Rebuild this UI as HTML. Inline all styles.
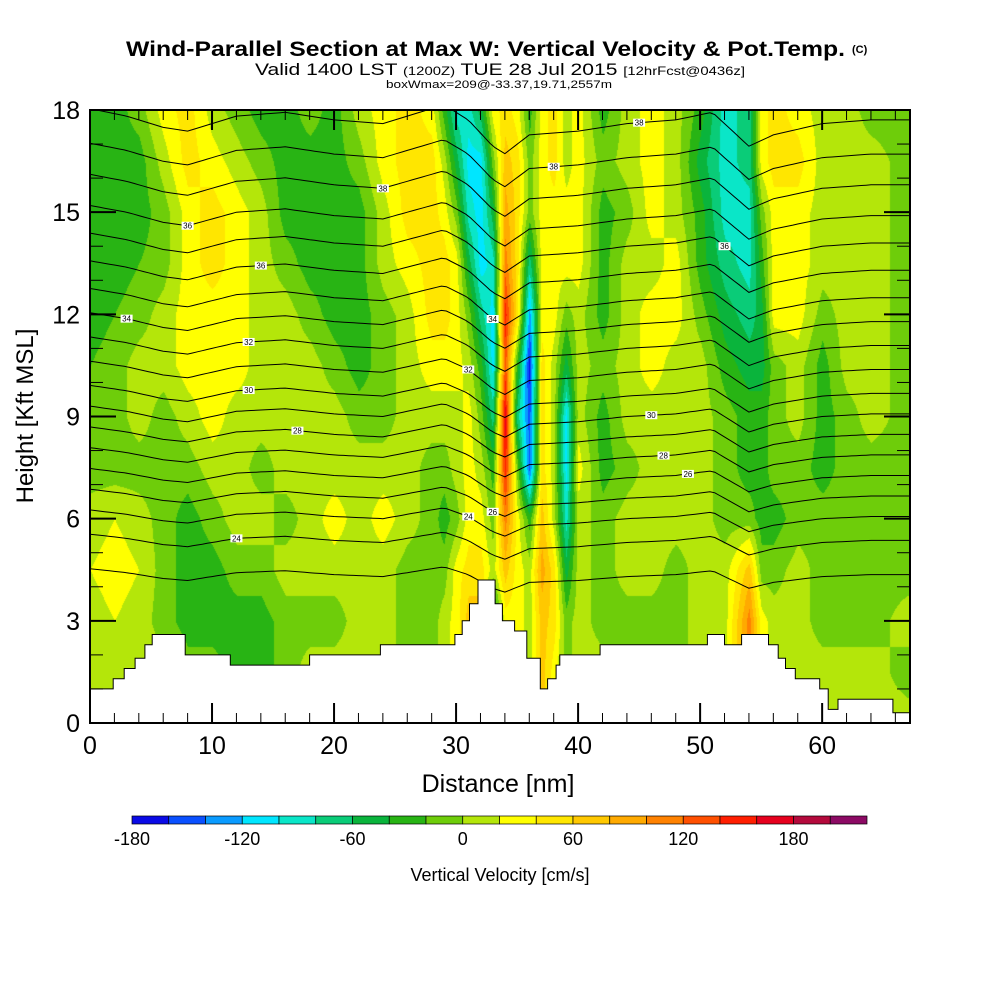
<!DOCTYPE html>
<html><head><meta charset="utf-8"><style>
body{margin:0;background:#fff;width:1000px;height:1000px;overflow:hidden;position:relative;font-family:"Liberation Sans",sans-serif}
#heat{position:absolute;left:90px;top:110px}
#ov{position:absolute;left:0;top:0}
</style></head><body>
<canvas id="heat" width="820" height="613"></canvas>
<svg id="ov" width="1000" height="1000">
<text x="126" y="56" font-size="21" font-weight="bold" textLength="719" lengthAdjust="spacingAndGlyphs">Wind-Parallel Section at Max W: Vertical Velocity &amp; Pot.Temp.</text>
<text x="852" y="53" font-size="11" font-weight="bold">(C)</text>
<text x="255" y="75" font-size="17" textLength="490" lengthAdjust="spacingAndGlyphs">Valid 1400 LST <tspan font-size="12">(1200Z)</tspan> TUE 28 Jul 2015 <tspan font-size="12">[12hrFcst@0436z]</tspan></text>
<text x="386" y="88" font-size="11" textLength="226" lengthAdjust="spacingAndGlyphs">boxWmax=209@-33.37,19.71,2557m</text>
<defs><clipPath id="pc"><rect x="90" y="110" width="820" height="613"/></clipPath></defs>
<g id="contours" clip-path="url(#pc)"></g>
<path id="terrain" fill="#fff" stroke="#000" stroke-width="1"/>
<g id="axes"></g>
<rect x="90" y="110" width="820" height="613" fill="none" stroke="#000" stroke-width="2"/>
<text x="0" y="0" font-size="24" text-anchor="middle" transform="translate(33,416) rotate(-90)">Height [Kft MSL]</text>
<text x="498" y="792" font-size="25" text-anchor="middle">Distance [nm]</text>
<g id="cbar"></g>
<text x="500" y="881" font-size="18" text-anchor="middle">Vertical Velocity [cm/s]</text>
</svg>
<script>
// ---- data ----
const colors=["#0a0ae6","#0a50ff","#0a9bff","#00e6ff","#0ae6c8","#0acc78","#0ab43c","#28b414","#6ecd0a","#b4e60a","#ffff00","#ffe600","#ffc800","#ffaa00","#ff8200","#ff5000","#ff1e00","#e6001e","#b40a3c","#8c0a64"];
const cbarLabels=[-180,-120,-60,0,60,120,180];
const heights=[18,16.5,15,13.5,12,10.5,9,7.5,6,4.5,3,1.5,0];
const xs=[0,2,4,6,8,10,12,14,16,18,20,22,24,26,28,29,30,31,32,33,34,35,36,37,38,39,40,42,44,46,48,50,52,54,55,56,58,60,62,64,67];
const wCols=[
[-30,-30,-30,-30,-30,-20,-10,-10,10,20,10,10,10],
[-30,-30,-30,-30,-20,-10,-10,-10,20,30,20,10,10],
[-10,-30,-30,-20,-10,10,10,-10,10,20,10,10,10],
[30,10,-10,-10,10,10,-10,-10,-10,-10,-10,10,10],
[50,50,30,30,30,30,10,-10,-30,-30,-30,-10,-10],
[10,30,50,50,30,30,30,10,-10,-30,-30,-10,-10],
[-10,10,30,30,30,30,10,10,10,-10,-30,-30,-30],
[-30,-10,10,10,10,10,10,-10,10,-10,-30,-30,-30],
[-30,-30,-30,-10,10,10,10,10,-10,10,-10,-10,-10],
[-10,-30,-30,-30,-10,10,10,10,10,10,-10,10,10],
[-30,-30,-30,-30,-30,-10,10,10,30,10,-10,10,10],
[10,-10,-30,-30,-30,-30,-10,10,10,10,10,10,10],
[30,30,10,10,-10,-10,-10,10,30,10,10,10,10],
[50,50,50,30,10,10,10,10,10,-10,-10,-10,-10],
[30,50,50,50,50,30,10,-10,-10,-10,-10,-10,-10],
[-30,10,30,50,50,30,10,-10,-30,-10,10,10,10],
[-90,-50,-10,30,30,30,10,10,-10,30,30,30,30],
[-90,-110,-90,-50,-10,10,30,30,30,50,70,70,70],
[-50,-110,-110,-110,-70,-30,-10,10,30,50,70,70,70],
[30,-10,-50,-90,-110,-110,-70,-30,-10,10,-70,-70,-70],
[50,70,90,110,150,130,170,150,110,70,30,30,30],
[30,50,50,50,50,-30,-70,-10,30,30,30,30,30],
[-30,-10,-10,-70,-130,-170,-150,-150,-30,10,10,10,10],
[30,30,30,30,30,50,50,50,70,90,70,70,70],
[50,50,30,30,30,10,10,10,10,50,50,30,30],
[10,10,30,30,-10,-50,-110,-110,-90,-50,-10,-10,-10],
[30,30,30,30,10,10,10,30,10,10,10,10,10],
[-30,-10,-30,-30,-30,-10,-30,-30,-10,-10,-10,10,10],
[10,10,-10,10,10,10,10,-10,10,10,-10,10,10],
[30,30,30,10,30,30,10,10,10,10,-10,-10,-10],
[10,10,10,30,30,10,10,10,10,-10,-10,-10,-10],
[-30,-50,-30,-30,-10,10,10,10,10,10,10,10,10],
[-90,-90,-90,-70,-50,-30,-10,-10,-10,10,10,10,10],
[-70,-70,-90,-90,-70,-50,-30,-30,-10,70,110,110,110],
[30,30,-10,-30,-50,-50,-30,-30,-30,-10,30,30,30],
[50,50,30,30,30,-10,-10,-10,-30,-10,10,10,10],
[30,50,30,30,30,10,10,-10,-10,10,10,10,10],
[10,10,10,10,-10,-30,-30,-30,-10,-10,-10,10,30],
[10,10,10,10,10,10,-10,-10,-10,-10,-10,10,10],
[-10,10,10,10,10,10,10,-10,-10,-10,-10,10,10],
[-10,-10,-10,-10,-10,-10,-10,-10,-10,-10,10,-10,10]];
const terrainX=[0,1.9,2.8,3.7,4.5,5.1,7.8,11.5,18.0,23.8,29.9,30.5,31.1,31.8,33.2,33.8,34.8,35.8,36.9,37.5,38.2,38.5,41.8,50.6,52.0,53.4,55.6,56.4,57.0,57.8,59.8,60.5,61.3,65.8];
const terrainH=[1.0,1.3,1.6,1.9,2.3,2.6,2.0,1.7,2.0,2.3,2.6,3.0,3.5,4.2,3.5,3.0,2.7,1.9,1.0,1.3,1.7,2.0,2.3,2.6,2.3,2.6,2.3,1.9,1.6,1.3,1.0,0.4,0.7,0.3];
const contourX=[0,3,6,8,12,16,20,24,27,29,31,33,34,36,40,44,48,51,54,56,60,64,67];
const contourDisp=[0.4,0.2,-0.1,-0.2,0.2,0.3,0.1,0,0.3,0.5,0.1,-0.6,-0.8,-0.3,-0.2,0,0.1,0.3,-0.6,-0.3,0,0.1,0.1];
const contourBase=[4.3,5.3,6.0,6.6,7.2,7.8,8.4,9.0,9.6,10.3,11.0,11.7,12.4,13.2,14.0,14.8,15.7,16.6,17.6];
const contourLabels=["","24","24","26","26","28","28","30","30","32","32","34","34","36","36","36","38","38","38"];
const contourLabelX=[0,12,31,33,49,47,17,46,13,31,13,3,33,14,52,8,24,38,45];
const xTicks=[0,10,20,30,40,50,60];
const yTicks=[0,3,6,9,12,15,18];
// ---- scales ----
const X0=90,X1=910,Y0=723,Y1=110,XMAX=67.2,HMAX=18;
const sx=x=>X0+x/XMAX*(X1-X0);
const sy=h=>Y0-h/HMAX*(Y0-Y1);
const NS="http://www.w3.org/2000/svg";
function interp(arrX,arrY,x){if(x<=arrX[0])return arrY[0];for(let i=0;i<arrX.length-1;i++){if(x<=arrX[i+1]){const t=(x-arrX[i])/(arrX[i+1]-arrX[i]);return arrY[i]+t*(arrY[i+1]-arrY[i]);}}return arrY[arrY.length-1];}
// ---- heat field ----
const cv=document.getElementById('heat'),ctx=cv.getContext('2d');
const img=ctx.createImageData(820,613);
const rgb=colors.map(c=>[parseInt(c.substr(1,2),16),parseInt(c.substr(3,2),16),parseInt(c.substr(5,2),16)]);
for(let px=0;px<820;px++){
 const x=px/820*XMAX;let j=0;while(j<xs.length-2&&x>xs[j+1])j++;
 const tx=Math.min(1,Math.max(0,(x-xs[j])/(xs[j+1]-xs[j])));
 for(let py=0;py<613;py++){
  const h=HMAX-py/613*HMAX;let r=(18-h)/1.5;let i=Math.min(11,Math.floor(r));const ty=r-i;
  const a=wCols[j][i],b=wCols[j+1][i],c=wCols[j][i+1],d=wCols[j+1][i+1];
  const v=(a*(1-tx)+b*tx)*(1-ty)+(c*(1-tx)+d*tx)*ty;
  let k=Math.floor((v+180)/20);k=Math.max(0,Math.min(19,k));
  const o=(py*820+px)*4;img.data[o]=rgb[k][0];img.data[o+1]=rgb[k][1];img.data[o+2]=rgb[k][2];img.data[o+3]=255;
 }}
ctx.putImageData(img,0,0);
// ---- contours ----
const cg=document.getElementById('contours');
const amp=b=>0.4+b/25;
contourBase.forEach((b,li)=>{
 let d="";for(let x=0;x<=XMAX;x+=0.4){const h=b+interp(contourX,contourDisp,x)*amp(b);d+=(x?"L":"M")+sx(x).toFixed(1)+" "+sy(h).toFixed(1);}
 const p=document.createElementNS(NS,'path');p.setAttribute('d',d);p.setAttribute('fill','none');p.setAttribute('stroke','#000');p.setAttribute('stroke-width','1');
 
 
 cg.appendChild(p);
 if(contourLabels[li]){const lx=contourLabelX[li];const lh=b+interp(contourX,contourDisp,lx)*amp(b);
  const r=document.createElementNS(NS,'rect');r.setAttribute('x',sx(lx)-6);r.setAttribute('y',sy(lh)-4);r.setAttribute('width',12);r.setAttribute('height',8);r.setAttribute('fill','#fff');
  
  
  cg.appendChild(r);
  const t=document.createElementNS(NS,'text');t.setAttribute('x',sx(lx));t.setAttribute('y',sy(lh)+3);t.setAttribute('font-size','8');t.setAttribute('text-anchor','middle');t.textContent=contourLabels[li];
  
  
  cg.appendChild(t);}
});
// ---- terrain ----
let td="M"+sx(0)+" "+sy(0);
terrainX.forEach((x,i)=>{const xe=i<terrainX.length-1?terrainX[i+1]:XMAX;td+="L"+sx(x).toFixed(1)+" "+sy(terrainH[i]).toFixed(1)+"L"+sx(xe).toFixed(1)+" "+sy(terrainH[i]).toFixed(1);});
td+="L"+sx(XMAX)+" "+sy(0)+"Z";
document.getElementById('terrain').setAttribute('d',td);
// ---- axes ----
const ag=document.getElementById('axes');
function line(x1,y1,x2,y2,w,name){const l=document.createElementNS(NS,'line');l.setAttribute('x1',x1);l.setAttribute('y1',y1);l.setAttribute('x2',x2);l.setAttribute('y2',y2);l.setAttribute('stroke','#000');l.setAttribute('stroke-width',w);
 
 
 ag.appendChild(l);}
function label(x,y,s,anchor,fs,name,parent){const t=document.createElementNS(NS,'text');t.setAttribute('x',x);t.setAttribute('y',y);t.setAttribute('font-size',fs);t.setAttribute('text-anchor',anchor);t.textContent=s;
 
 
 parent.appendChild(t);}
for(let x=0;x<=66;x+=2){const maj=x%10===0;const L=maj?20:10;line(sx(x),Y0,sx(x),Y0-L,maj?2:1,'x-tick');line(sx(x),Y1,sx(x),Y1+L,maj?2:1,'x-tick-top');}
for(let h=0;h<=18;h++){const maj=h%3===0;const L=maj?26:13;line(X0,sy(h),X0+L,sy(h),maj?2:1,'y-tick');line(X1,sy(h),X1-L,sy(h),maj?2:1,'y-tick-right');}
xTicks.forEach(v=>label(sx(v),754,String(v),'middle',25,'x-tick-label',ag));
yTicks.forEach(v=>label(80,sy(v)+9,String(v),'end',25,'y-tick-label',ag));
// ---- colorbar ----
const cb=document.getElementById('cbar');const CB0=132,CBW=36.75;
colors.forEach((c,i)=>{const r=document.createElementNS(NS,'rect');r.setAttribute('x',CB0+i*CBW);r.setAttribute('y',816);r.setAttribute('width',CBW);r.setAttribute('height',8);r.setAttribute('fill',c);r.setAttribute('stroke','#000');r.setAttribute('stroke-width','0.7');
 
 
 cb.appendChild(r);});
cbarLabels.forEach(v=>label(CB0+(v+180)/20*CBW,845,String(v),'middle',18,'colorbar-label',cb));
</script>
</body></html>
